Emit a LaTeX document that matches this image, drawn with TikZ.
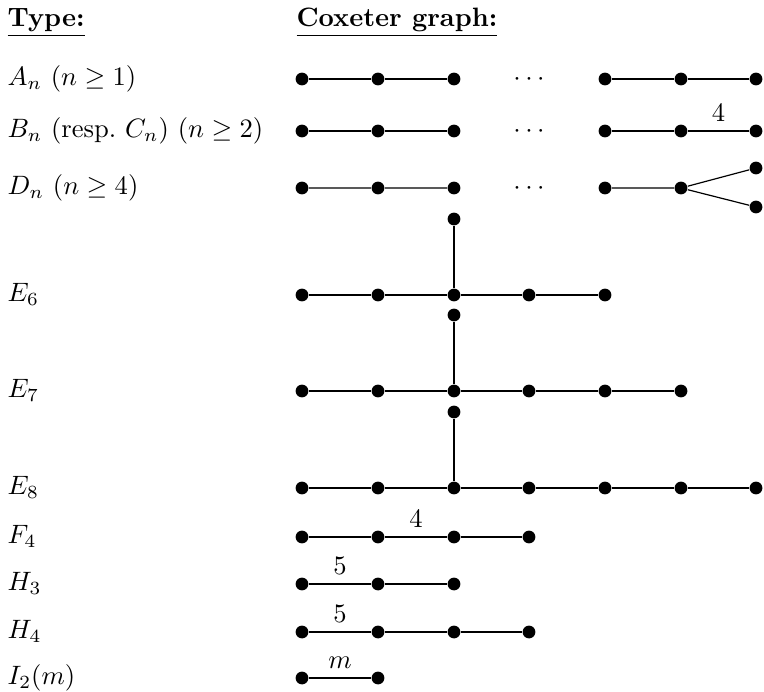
\documentclass[tikz,border=0pt]{standalone}
\begin{document}
\begin{tikzpicture}[x=0.013210cm, y=-0.013210cm]
\tikzset{
  dot/.style={circle, fill=black, draw=none, inner sep=0pt, minimum size=4.8pt},
  hdr/.style={anchor=base west, inner sep=0pt},
  lbl/.style={anchor=base west, inner sep=0pt, yshift=-2.5pt},
  dd/.style={anchor=base, inner sep=0pt, yshift=-2.5pt},
  wt/.style={above, inner sep=3.3pt},
  every path/.style={line width=0.45pt}
}
\useasboundingbox (0,0) rectangle (764,691);
% headers
\node[hdr] (t1) at (7,26) {\underline{\textbf{Type:}}};
\node[hdr] (t2) at (296,26) {\underline{\textbf{Coxeter graph:}}};
% labels
\node[lbl] (la) at (7,79)  {$A_n$ $(n\geq 1)$};
\node[lbl] (lb) at (7,131) {$B_n$ (resp.\ $C_n$) $(n\geq 2)$};
\node[lbl] (ld) at (7,188) {$D_n$ $(n\geq 4)$};
\node[lbl] (le6) at (7,295) {$E_6$};
\node[lbl] (le7) at (7,391) {$E_7$};
\node[lbl] (le8) at (7,488) {$E_8$};
\node[lbl] (lf4) at (7,537) {$F_4$};
\node[lbl] (lh3) at (7,584) {$H_3$};
\node[lbl] (lh4) at (7,632) {$H_4$};
\node[lbl] (li2) at (7,678) {$I_2(m)$};
% A_n
\foreach \n/\x in {1/302,2/378,3/454,4/605,5/681,6/756} \node[dot] (a\n) at (\x,79) {};
\draw (a1) -- (a2) -- (a3) (a4) -- (a5) -- (a6);
\node[dd] (ad) at (529,79) {$\cdots$};
% B_n
\foreach \n/\x in {1/302,2/378,3/454,4/605,5/681,6/756} \node[dot] (b\n) at (\x,131) {};
\draw (b1) -- (b2) -- (b3) (b4) -- (b5);
\draw (b5) -- node[wt] (bw) {$4$} (b6);
\node[dd] (bd) at (529,131) {$\cdots$};
% D_n
\foreach \n/\x in {1/302,2/378,3/454,4/605,5/681} \node[dot] (d\n) at (\x,188) {};
\node[dot] (d6) at (756,168) {};
\node[dot] (d7) at (756,207) {};
\draw (d1) -- (d2) -- (d3) (d4) -- (d5) (d5) -- (d6) (d5) -- (d7);
\node[dd] (dd) at (529,188) {$\cdots$};
% E_6
\foreach \n/\x in {1/302,2/378,3/454,4/529,5/605} \node[dot] (e\n) at (\x,295) {};
\node[dot] (e6) at (454,219) {};
\draw (e1) -- (e2) -- (e3) -- (e4) -- (e5) (e3) -- (e6);
% E_7
\foreach \n/\x in {1/302,2/378,3/454,4/529,5/605,6/681} \node[dot] (f\n) at (\x,391) {};
\node[dot] (f7) at (454,315) {};
\draw (f1) -- (f2) -- (f3) -- (f4) -- (f5) -- (f6) (f3) -- (f7);
% E_8
\foreach \n/\x in {1/302,2/378,3/454,4/529,5/605,6/681,7/756} \node[dot] (g\n) at (\x,488) {};
\node[dot] (g8) at (454,412) {};
\draw (g1) -- (g2) -- (g3) -- (g4) -- (g5) -- (g6) -- (g7) (g3) -- (g8);
% F_4
\foreach \n/\x in {1/302,2/378,3/454,4/529} \node[dot] (h\n) at (\x,537) {};
\draw (h1) -- (h2) (h3) -- (h4);
\draw (h2) -- node[wt] (hw) {$4$} (h3);
% H_3
\foreach \n/\x in {1/302,2/378,3/454} \node[dot] (i\n) at (\x,584) {};
\draw (i1) -- node[wt] (iw) {$5$} (i2);
\draw (i2) -- (i3);
% H_4
\foreach \n/\x in {1/302,2/378,3/454,4/529} \node[dot] (j\n) at (\x,632) {};
\draw (j1) -- node[wt] (jw) {$5$} (j2);
\draw (j2) -- (j3) -- (j4);
% I_2(m)
\foreach \n/\x in {1/302,2/378} \node[dot] (k\n) at (\x,678) {};
\draw (k1) -- node[wt] (kw) {$m$} (k2);
\end{tikzpicture}
\end{document}
